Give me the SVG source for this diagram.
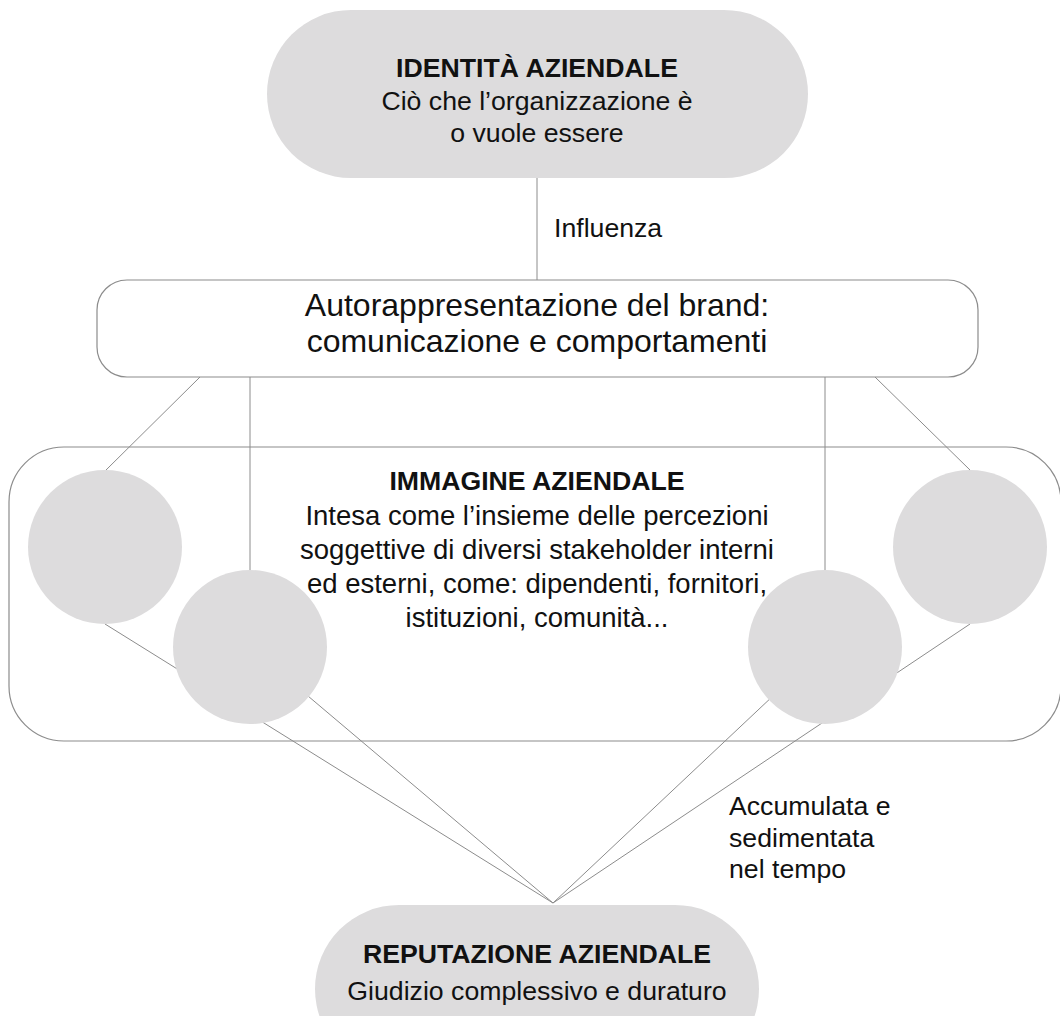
<svg xmlns="http://www.w3.org/2000/svg" width="1060" height="1016" viewBox="0 0 1060 1016">
<style>
  .bg { fill: #ffffff; }
  .pill { fill: #dddcdd; stroke: none; }
  .circ { fill: #dddcdd; stroke: none; }
  .frame { fill: none; stroke: #8c8c8c; stroke-width: 1.2; }
  .conn line { stroke: #8c8c8c; stroke-width: 1; fill: none; }
  text { font-family: "Liberation Sans", Arial, sans-serif; fill: #111111; }
  .t { font-size: 26.67px; }
  .b { font-size: 26.67px; font-weight: bold; }
  .big { font-size: 32px; }
  .c { text-anchor: middle; }
</style>
<rect class="bg" x="0" y="0" width="1060" height="1016"/>

<g id="immagine-aziendale">
  <rect class="frame" x="9" y="447" width="1052" height="294" rx="55" ry="55"/>
</g>

<g id="connectors" class="conn">
  <line x1="537" y1="178" x2="537" y2="280"/>
  <line x1="200" y1="377" x2="105" y2="471"/>
  <line x1="250" y1="377" x2="250" y2="647"/>
  <line x1="825" y1="377" x2="825" y2="647"/>
  <line x1="875" y1="377" x2="970" y2="470"/>
  <line x1="105" y1="624" x2="553" y2="903"/>
  <line x1="250" y1="647" x2="553" y2="903"/>
  <line x1="825" y1="647" x2="553" y2="903"/>
  <line x1="970" y1="624" x2="553" y2="903"/>
</g>

<g id="identita-aziendale">
  <rect class="pill" x="267" y="10" width="541" height="168" rx="84" ry="84"/>
  <text class="b c" x="537" y="77">IDENTITÀ AZIENDALE</text>
  <text class="t c" x="537" y="110">Ciò che l’organizzazione è</text>
  <text class="t c" x="537" y="142">o vuole essere</text>
</g>

<g id="label-influenza">
  <text class="t" x="554" y="237">Influenza</text>
</g>

<g id="autorappresentazione">
  <rect class="frame" x="97" y="280" width="881" height="97" rx="30" ry="30" fill="#ffffff"/>
  <text class="big c" x="537" y="316">Autorappresentazione del brand:</text>
  <text class="big c" x="537" y="352"> comunicazione e comportamenti</text>
</g>

<g id="stakeholder-1"><circle class="circ" cx="105" cy="547" r="77"/></g>
<g id="stakeholder-2"><circle class="circ" cx="250" cy="647" r="77"/></g>
<g id="stakeholder-3"><circle class="circ" cx="825" cy="647" r="77"/></g>
<g id="stakeholder-4"><circle class="circ" cx="970" cy="547" r="77"/></g>

<g id="immagine-testo">
  <text class="b c" x="537" y="490">IMMAGINE AZIENDALE</text>
  <text class="t c" x="537" y="525" style="font-size:27.5px">Intesa come l’insieme delle percezioni</text>
  <text class="t c" x="537" y="559" style="font-size:27.5px">soggettive di diversi stakeholder interni</text>
  <text class="t c" x="537" y="593" style="font-size:27.5px">ed esterni, come: dipendenti, fornitori,</text>
  <text class="t c" x="537" y="627" style="font-size:27.5px">istituzioni, comunità...</text>
</g>

<g id="label-accumulata">
  <text class="t" x="729" y="815">Accumulata e</text>
  <text class="t" x="729" y="847">sedimentata</text>
  <text class="t" x="729" y="878">nel tempo</text>
</g>

<g id="reputazione-aziendale">
  <rect class="pill" x="315" y="905" width="444" height="168" rx="84" ry="84"/>
  <text class="b c" x="537" y="963">REPUTAZIONE AZIENDALE</text>
  <text class="t c" x="537" y="1000">Giudizio complessivo e duraturo</text>
</g>
</svg>
